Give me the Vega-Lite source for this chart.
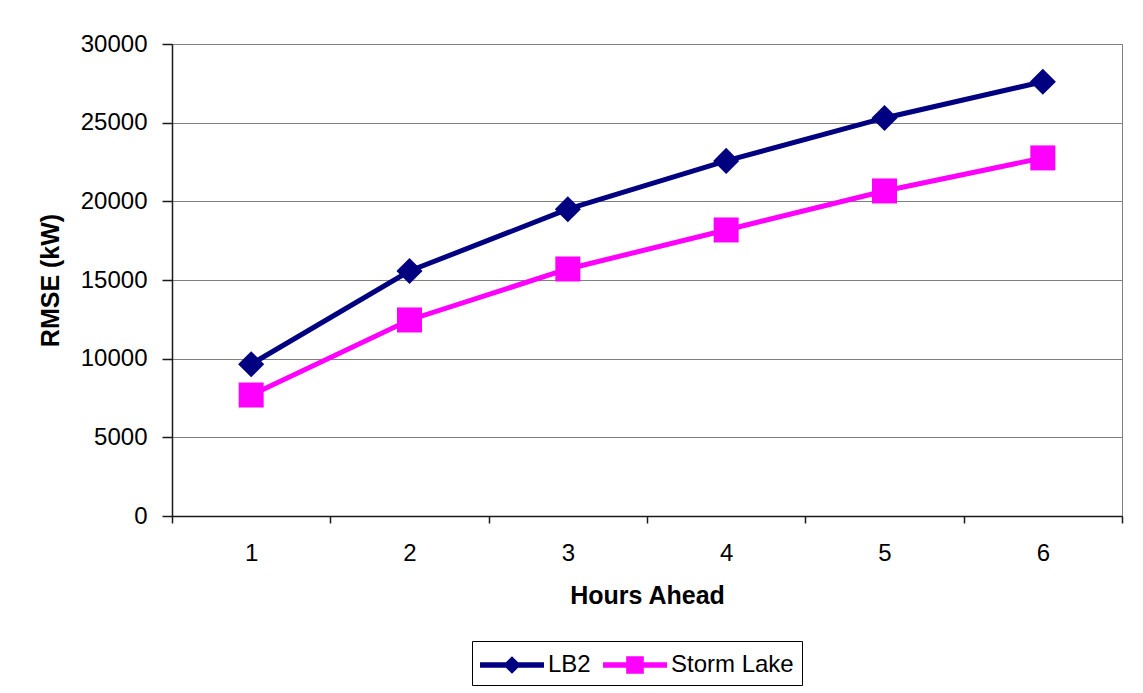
{
  "$schema": "https://vega.github.io/schema/vega-lite/v6.json",
  "width": 950,
  "height": 472,
  "autosize": "none",
  "padding": {"left": 172, "top": 44, "right": 21, "bottom": 177},
  "background": "#ffffff",
  "config": {
    "view": {"stroke": "#808080", "strokeWidth": 1},
    "font": "Liberation Sans",
    "axis": {
      "labelFont": "Liberation Sans",
      "labelFontSize": 24,
      "labelColor": "#000000",
      "titleFont": "Liberation Sans",
      "titleFontSize": 25,
      "titleFontWeight": "bold",
      "titleColor": "#000000",
      "domainColor": "#1a1a1a",
      "domainWidth": 1.5,
      "tickColor": "#1a1a1a",
      "tickWidth": 1.5,
      "gridColor": "#808080",
      "gridWidth": 1
    }
  },
  "data": {
    "values": [
      {"hour": 1, "series": "LB2", "rmse": 9650},
      {"hour": 2, "series": "LB2", "rmse": 15570},
      {"hour": 3, "series": "LB2", "rmse": 19500},
      {"hour": 4, "series": "LB2", "rmse": 22570},
      {"hour": 5, "series": "LB2", "rmse": 25300},
      {"hour": 6, "series": "LB2", "rmse": 27600},
      {"hour": 1, "series": "Storm Lake", "rmse": 7690},
      {"hour": 2, "series": "Storm Lake", "rmse": 12460},
      {"hour": 3, "series": "Storm Lake", "rmse": 15700},
      {"hour": 4, "series": "Storm Lake", "rmse": 18180},
      {"hour": 5, "series": "Storm Lake", "rmse": 20660},
      {"hour": 6, "series": "Storm Lake", "rmse": 22760}
    ]
  },
  "encoding": {
    "x": {
      "field": "hour",
      "type": "quantitative",
      "scale": {"domain": [0.5, 6.5], "nice": false, "zero": false},
      "axis": {
        "title": "Hours Ahead",
        "values": [0.5, 1, 1.5, 2, 2.5, 3, 3.5, 4, 4.5, 5, 5.5, 6, 6.5],
        "labelExpr": "datum.value % 1 === 0 ? format(datum.value, 'd') : ''",
        "tickOpacity": {"condition": {"test": "datum.value % 1 === 0", "value": 0}, "value": 1},
        "labelOverlap": false,
        "labelFlush": false,
        "grid": false,
        "tickSize": 7,
        "labelPadding": 18,
        "titlePadding": 18
      }
    },
    "y": {
      "field": "rmse",
      "type": "quantitative",
      "scale": {"domain": [0, 30000], "nice": false},
      "axis": {
        "title": "RMSE (kW)",
        "values": [0, 5000, 10000, 15000, 20000, 25000, 30000],
        "format": "d",
        "grid": true,
        "tickSize": 10,
        "labelPadding": 15,
        "titlePadding": 17
      }
    },
    "color": {
      "field": "series",
      "type": "nominal",
      "scale": {"domain": ["LB2", "Storm Lake"], "range": ["#000080", "#FF00FF"]},
      "legend": {
        "title": null,
        "orient": "none",
        "legendX": 300,
        "legendY": 597,
        "direction": "horizontal",
        "strokeColor": "#000000",
        "fillColor": "#ffffff",
        "padding": 8,
        "labelFont": "Liberation Sans",
        "labelFontSize": 24,
        "labelColor": "#000000",
        "symbolSize": 1024,
        "labelOffset": 36,
        "columnPadding": 12,
        "symbolStrokeWidth": 0,
        "symbolOpacity": 1
      }
    }
  },
  "layer": [
    {
      "mark": {"type": "line", "strokeWidth": 5}
    },
    {
      "transform": [{"filter": "datum.series === 'LB2'"}],
      "mark": {"type": "point", "filled": true, "opacity": 1, "strokeWidth": 0, "shape": "diamond", "size": 680}
    },
    {
      "transform": [{"filter": "datum.series === 'Storm Lake'"}],
      "mark": {"type": "point", "filled": true, "opacity": 1, "strokeWidth": 0, "shape": "square", "size": 625}
    },
    {
      "transform": [{"filter": "false"}],
      "mark": {"type": "point", "filled": true, "opacity": 1, "strokeWidth": 0},
      "encoding": {
        "shape": {
          "field": "series",
          "type": "nominal",
          "scale": {
            "domain": ["LB2", "Storm Lake"],
            "range": [
              "M-1,-0.17L0.62,-0.17L1,-0.55L1.38,-0.17L3,-0.17L3,0.17L1.38,0.17L1,0.55L0.62,0.17L-1,0.17Z",
              "M-1,-0.17L0.45,-0.17L0.45,-0.55L1.55,-0.55L1.55,-0.17L3,-0.17L3,0.17L1.55,0.17L1.55,0.55L0.45,0.55L0.45,0.17L-1,0.17Z"
            ]
          },
          "legend": {
            "title": null,
            "orient": "none",
            "legendX": 300,
            "legendY": 597,
            "direction": "horizontal",
            "strokeColor": "#000000",
            "fillColor": "#ffffff",
            "padding": 8,
            "labelFont": "Liberation Sans",
            "labelFontSize": 24,
            "labelColor": "#000000",
            "symbolSize": 1024,
            "labelOffset": 36,
            "columnPadding": 12,
            "symbolStrokeWidth": 0,
            "symbolOpacity": 1
          }
        }
      }
    }
  ]
}
